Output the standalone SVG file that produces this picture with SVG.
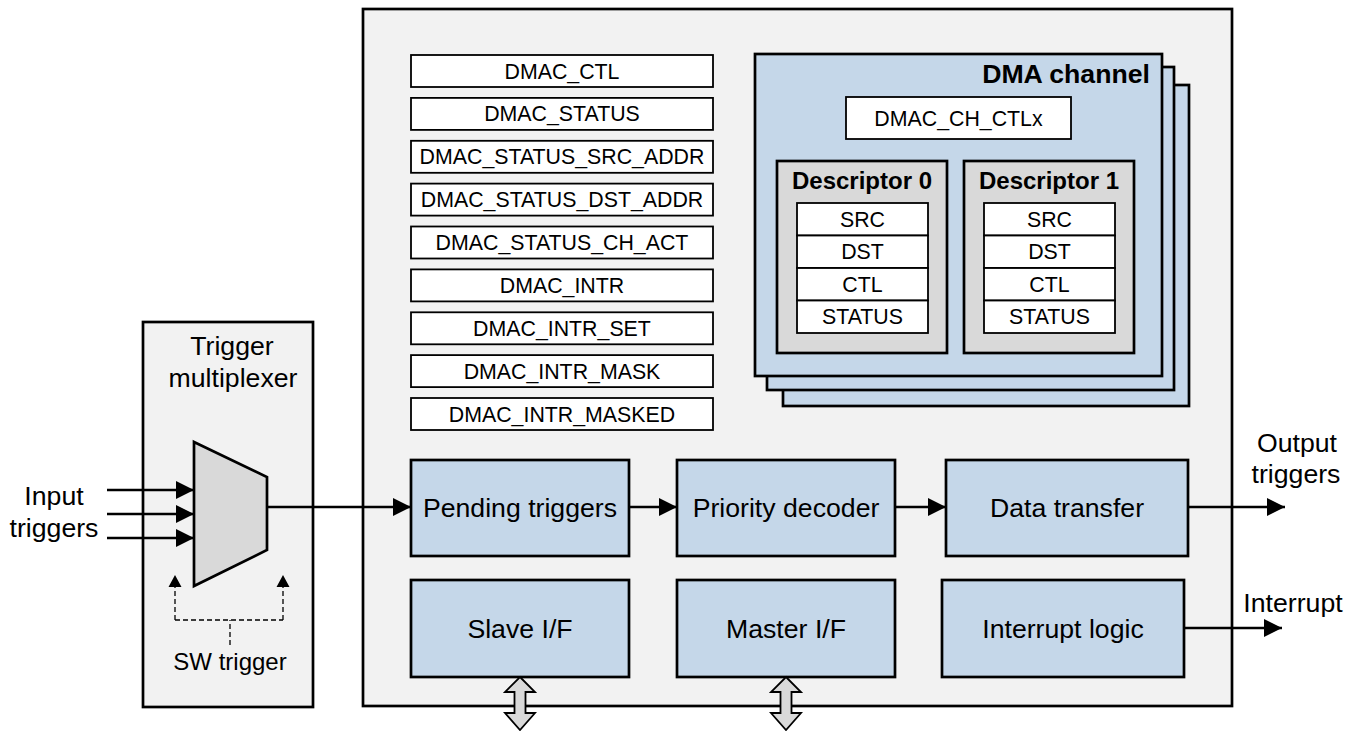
<svg xmlns="http://www.w3.org/2000/svg" width="1357" height="731" viewBox="0 0 1357 731">
<style>
text{font-family:"Liberation Sans",Arial,sans-serif;fill:#000;text-anchor:middle}
.lg{font-size:26.67px}
.rg{font-size:21.33px}
.sw{font-size:24px}
.bd{font-weight:bold}
.frame{fill:#f2f2f2;stroke:#000;stroke-width:2.7}
.blk{fill:#c5d7e9;stroke:#000;stroke-width:2.7}
.reg{fill:#fff;stroke:#000;stroke-width:1.8}
.desc{fill:#d9d9d9;stroke:#000;stroke-width:2.7}
.wire{fill:none;stroke:#000;stroke-width:2.7}
.dash{fill:none;stroke:#000;stroke-width:1.3;stroke-dasharray:5 3}
</style>
<defs>
<marker id="ah" viewBox="0 0 18 18" refX="18" refY="9" markerWidth="18" markerHeight="18" markerUnits="userSpaceOnUse" orient="auto">
<path d="M0,0 L18,9 L0,18 Z" fill="#000"/>
</marker>
<marker id="ahs" viewBox="0 0 13 12" refX="6.5" refY="0" markerWidth="13" markerHeight="12" markerUnits="userSpaceOnUse" orient="0">
<path d="M6.5,0 L13,12 L0,12 Z" fill="#000"/>
</marker>
</defs>

<g id="trigger-mux">
<rect class="frame" x="143" y="322" width="170" height="385"/>
<text class="lg" x="232" y="355">Trigger</text>
<text class="lg" x="233" y="387">multiplexer</text>
<polygon points="194,442 267,477 267,550 194,586" fill="#d9d9d9" stroke="#000" stroke-width="2.7" stroke-linejoin="miter"/>
<text class="sw" x="230" y="670">SW trigger</text>
</g>

<g id="dmac">
<rect class="frame" x="363" y="9" width="869" height="697"/>
</g>

<g id="registers">
<rect class="reg" x="411" y="55" width="302" height="32"/><text class="rg" x="562" y="78.5">DMAC_CTL</text>
<rect class="reg" x="411" y="97.9" width="302" height="32"/><text class="rg" x="562" y="121.4">DMAC_STATUS</text>
<rect class="reg" x="411" y="140.8" width="302" height="32"/><text class="rg" x="562" y="164.3">DMAC_STATUS_SRC_ADDR</text>
<rect class="reg" x="411" y="183.6" width="302" height="32"/><text class="rg" x="562" y="207.1">DMAC_STATUS_DST_ADDR</text>
<rect class="reg" x="411" y="226.5" width="302" height="32"/><text class="rg" x="562" y="250">DMAC_STATUS_CH_ACT</text>
<rect class="reg" x="411" y="269.4" width="302" height="32"/><text class="rg" x="562" y="292.9">DMAC_INTR</text>
<rect class="reg" x="411" y="312.3" width="302" height="32"/><text class="rg" x="562" y="335.8">DMAC_INTR_SET</text>
<rect class="reg" x="411" y="355.1" width="302" height="32"/><text class="rg" x="562" y="378.6">DMAC_INTR_MASK</text>
<rect class="reg" x="411" y="398" width="302" height="32"/><text class="rg" x="562" y="421.5">DMAC_INTR_MASKED</text>
</g>

<g id="dma-channel">
<rect class="blk" x="783" y="85" width="406" height="321"/>
<rect class="blk" x="767" y="67" width="407" height="323"/>
<rect class="blk" x="755" y="54" width="407" height="322"/>
<text class="lg bd" x="1150" y="83" style="text-anchor:end">DMA channel</text>
<rect class="reg" x="846" y="97" width="225" height="42"/>
<text class="rg" x="958.5" y="125.5">DMAC_CH_CTLx</text>
</g>

<g id="descriptor-0">
<rect class="desc" x="777" y="161" width="170" height="192"/>
<text class="sw bd" x="862" y="189">Descriptor 0</text>
<rect class="reg" x="797" y="203" width="131" height="32.5"/><text class="rg" x="862.5" y="226.5">SRC</text>
<rect class="reg" x="797" y="235.5" width="131" height="32.5"/><text class="rg" x="862.5" y="259">DST</text>
<rect class="reg" x="797" y="268" width="131" height="32.5"/><text class="rg" x="862.5" y="291.5">CTL</text>
<rect class="reg" x="797" y="300.5" width="131" height="32.5"/><text class="rg" x="862.5" y="324">STATUS</text>
</g>

<g id="descriptor-1">
<rect class="desc" x="964" y="161" width="170" height="192"/>
<text class="sw bd" x="1049" y="189">Descriptor 1</text>
<rect class="reg" x="984" y="203" width="131" height="32.5"/><text class="rg" x="1049.5" y="226.5">SRC</text>
<rect class="reg" x="984" y="235.5" width="131" height="32.5"/><text class="rg" x="1049.5" y="259">DST</text>
<rect class="reg" x="984" y="268" width="131" height="32.5"/><text class="rg" x="1049.5" y="291.5">CTL</text>
<rect class="reg" x="984" y="300.5" width="131" height="32.5"/><text class="rg" x="1049.5" y="324">STATUS</text>
</g>

<g id="pending-triggers">
<rect class="blk" x="411" y="460" width="218" height="96"/>
<text class="lg" x="520" y="517">Pending triggers</text>
</g>
<g id="priority-decoder">
<rect class="blk" x="677" y="460" width="218" height="96"/>
<text class="lg" x="786" y="517">Priority decoder</text>
</g>
<g id="data-transfer">
<rect class="blk" x="946" y="460" width="242" height="96"/>
<text class="lg" x="1067" y="517">Data transfer</text>
</g>
<g id="slave-if">
<rect class="blk" x="411" y="580" width="218" height="97"/>
<text class="lg" x="520" y="638">Slave I/F</text>
</g>
<g id="master-if">
<rect class="blk" x="677" y="580" width="218" height="97"/>
<text class="lg" x="786" y="638">Master I/F</text>
</g>
<g id="interrupt-logic">
<rect class="blk" x="942" y="580" width="242" height="97"/>
<text class="lg" x="1063" y="638">Interrupt logic</text>
</g>

<g id="labels">
<text class="lg" x="54" y="505">Input</text>
<text class="lg" x="54" y="537">triggers</text>
<text class="lg" x="1297" y="452">Output</text>
<text class="lg" x="1296" y="483">triggers</text>
<text class="lg" x="1293" y="612">Interrupt</text>
</g>

<g id="connectors">
<line class="wire" x1="107" y1="490" x2="194" y2="490" marker-end="url(#ah)"/>
<line class="wire" x1="107" y1="514" x2="194" y2="514" marker-end="url(#ah)"/>
<line class="wire" x1="107" y1="538" x2="194" y2="538" marker-end="url(#ah)"/>
<line class="wire" x1="267" y1="507" x2="411" y2="507" marker-end="url(#ah)"/>
<line class="wire" x1="629" y1="507" x2="677" y2="507" marker-end="url(#ah)"/>
<line class="wire" x1="895" y1="507" x2="946" y2="507" marker-end="url(#ah)"/>
<line class="wire" x1="1188" y1="507" x2="1285" y2="507" marker-end="url(#ah)"/>
<line class="wire" x1="1184" y1="628" x2="1282" y2="628" marker-end="url(#ah)"/>
<path class="dash" d="M230,645 V620 M175,620 H283 M175,620 V587 M283,620 V587"/>
<path d="M175,575 L181.5,587 L168.5,587 Z M283,575 L289.5,587 L276.5,587 Z" fill="#000"/>
<polygon points="520,677 535,692 525.5,692 525.5,713 535,713 520,730 505,713 514.5,713 514.5,692 505,692" fill="#d9d9d9" stroke="#000" stroke-width="1.8"/>
<polygon points="786,677 801,692 791.5,692 791.5,713 801,713 786,730 771,713 780.5,713 780.5,692 771,692" fill="#d9d9d9" stroke="#000" stroke-width="1.8"/>
</g>
</svg>
